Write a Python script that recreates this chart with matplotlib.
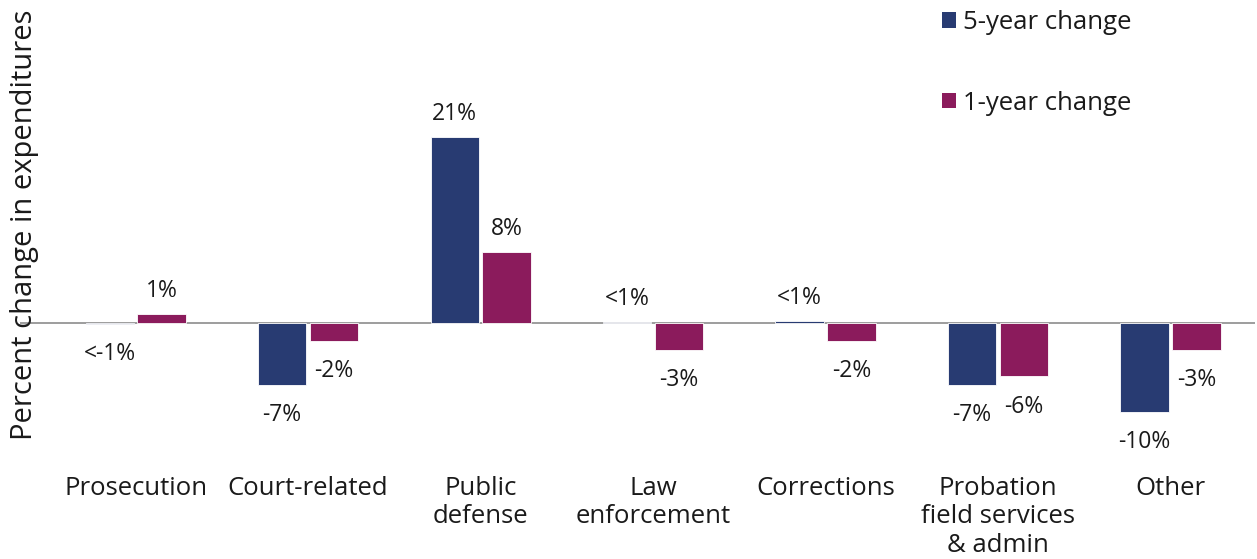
import matplotlib.pyplot as plt
import matplotlib.patches as patches
import numpy as np

# Percent change in expenditures by category
categories = ['Prosecution', 'Court-related', 'Public\ndefense', 'Law\nenforcement',
              'Corrections', 'Probation\nfield services\n& admin', 'Other']
five_year = [-0.05, -7.0, 21.0, 0.1, 0.3, -7.0, -10.0]
one_year = [1.0, -2.0, 8.0, -3.0, -2.0, -6.0, -3.0]
five_year_labels = ['<-1%', '-7%', '21%', '<1%', '<1%', '-7%', '-10%']
one_year_labels = ['1%', '-2%', '8%', '-3%', '-2%', '-6%', '-3%']

navy = '#283b72'
maroon = '#8b1b5c'


def run():
    plt.rcParams['font.family'] = ['Open Sans', 'DejaVu Sans']
    text_color = '#1a1a1a'

    figure = plt.figure(figsize=(12.57, 5.59), dpi=100)
    ax = figure.add_axes([20 / 1257, 1 - 450 / 559, 1235 / 1257, 450 / 559])

    x = np.arange(len(categories))
    w = 0.28
    off = 0.15
    series = [
        (five_year, five_year_labels, navy, '5-year change', -off),
        (one_year, one_year_labels, maroon, '1-year change', off),
    ]
    handles = []
    for values, labels, color, name, dx in series:
        ax.bar(x + dx, values, width=w, color=color, edgecolor='white',
               linewidth=0.6, label=name, zorder=2)
        handles.append(patches.Patch(facecolor=color, label=name))
        for xi, v, lab in zip(x + dx, values, labels):
            ax.annotate(lab, (xi, v), xytext=(0, 8 if v > 0 else -13),
                        textcoords='offset points', ha='center',
                        va='bottom' if v > 0 else 'top', fontsize=16.5,
                        color=text_color)

    ax.axhline(0, color='#8c8c8c', linewidth=1.2, zorder=1)

    # Format
    ax.set_xlim(-0.67, 6.49)
    ax.set_ylim(-14.3, 36.5)
    for pos in ['left', 'right', 'top', 'bottom']:
        ax.spines[pos].set_visible(False)
    ax.set_yticks([])
    ax.set_xticks(x)
    ax.set_xticklabels(categories, fontsize=18.5, color=text_color, linespacing=1.18)
    ax.tick_params(axis='x', length=0, pad=18.5)

    figure.text(25 / 1257, 1 - 225 / 559, 'Percent change in expenditures',
                rotation=90, ha='center', va='center', fontsize=21, color=text_color)

    ax.legend(handles=handles, loc='upper left', bbox_to_anchor=(932 / 1257, 1.0),
              bbox_transform=figure.transFigure, frameon=False, fontsize=18.5,
              handlelength=0.55, handleheight=0.55, handletextpad=0.25,
              labelspacing=2.15, borderaxespad=0.0, labelcolor=text_color)

    figure.savefig('out.png', dpi=100)


if __name__ == '__main__':
    run()
